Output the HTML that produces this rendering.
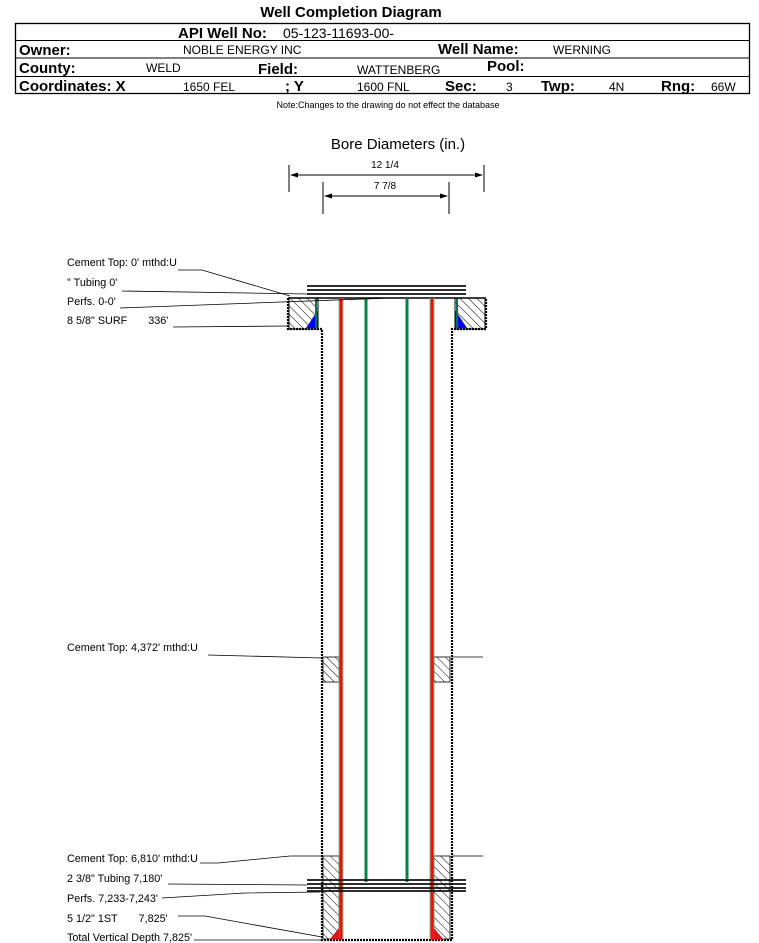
<!DOCTYPE html>
<html><head><meta charset="utf-8"><style>
html,body{margin:0;padding:0;background:#fff;width:759px;height:943px;overflow:hidden}
svg{display:block}
text{font-family:"Liberation Sans",Arial,sans-serif;fill:#000}
</style></head><body>
<svg width="759" height="943" viewBox="0 0 759 943" xmlns="http://www.w3.org/2000/svg">
<defs>
<pattern id="h" patternUnits="userSpaceOnUse" width="6" height="6" patternTransform="rotate(-45)">
<rect width="6" height="6" fill="#fff"/><line x1="0" y1="0" x2="0" y2="6" stroke="#000" stroke-width="1"/>
</pattern>
</defs>
<!-- Header -->
<text x="351" y="17" font-size="15" font-weight="bold" text-anchor="middle">Well Completion Diagram</text>
<rect x="15.5" y="23.5" width="734" height="70" fill="none" stroke="#000" stroke-width="1.3"/>
<line x1="15" y1="40.5" x2="750" y2="40.5" stroke="#000"/>
<line x1="15" y1="58" x2="750" y2="58" stroke="#000"/>
<line x1="15" y1="76.5" x2="750" y2="76.5" stroke="#000"/>
<text x="178" y="38" font-size="15" font-weight="bold">API Well No:</text>
<text x="283" y="38" font-size="14">05-123-11693-00-</text>
<text x="19" y="55" font-size="15" font-weight="bold">Owner:</text>
<text x="183" y="54" font-size="12">NOBLE ENERGY INC</text>
<text x="438" y="54" font-size="15" font-weight="bold">Well Name:</text>
<text x="553" y="54" font-size="12">WERNING</text>
<text x="19" y="73" font-size="15" font-weight="bold">County:</text>
<text x="146" y="72" font-size="12">WELD</text>
<text x="258" y="74" font-size="15" font-weight="bold">Field:</text>
<text x="357" y="74" font-size="12">WATTENBERG</text>
<text x="487" y="71" font-size="15" font-weight="bold">Pool:</text>
<text x="19" y="91" font-size="15" font-weight="bold">Coordinates: X</text>
<text x="183" y="91" font-size="12">1650 FEL</text>
<text x="285" y="91" font-size="15" font-weight="bold">; Y</text>
<text x="357" y="91" font-size="12">1600 FNL</text>
<text x="445" y="91" font-size="15" font-weight="bold">Sec:</text>
<text x="506" y="91" font-size="12">3</text>
<text x="541" y="91" font-size="15" font-weight="bold">Twp:</text>
<text x="609" y="91" font-size="12">4N</text>
<text x="661" y="91" font-size="15" font-weight="bold">Rng:</text>
<text x="711" y="91" font-size="12">66W</text>
<text x="388" y="108" font-size="9" text-anchor="middle">Note:Changes to the drawing do not effect the database</text>

<!-- Bore diameters -->
<text x="398" y="149" font-size="15" text-anchor="middle">Bore Diameters (in.)</text>
<text x="385" y="168" font-size="10" text-anchor="middle">12 1/4</text>
<text x="385" y="189" font-size="10" text-anchor="middle">7 7/8</text>
<g stroke="#000" stroke-width="1">
<line x1="289" y1="165" x2="289" y2="192"/><line x1="484" y1="165" x2="484" y2="192"/>
<line x1="291" y1="175" x2="482" y2="175"/>
<line x1="323" y1="182" x2="323" y2="214"/><line x1="449" y1="182" x2="449" y2="214"/>
<line x1="325" y1="196" x2="447" y2="196"/>
</g>
<polygon points="290,175 298,172.5 298,177.5"/><polygon points="483,175 475,172.5 475,177.5"/>
<polygon points="324,196 332,193.5 332,198.5"/><polygon points="448,196 440,193.5 440,198.5"/>

<!-- surface casing hatches -->
<rect x="289" y="298" width="29" height="31" fill="url(#h)" stroke="#000"/>
<rect x="455" y="298" width="30" height="31" fill="url(#h)" stroke="#000"/>
<polygon points="318,310 318,328 306,328" fill="#00f"/>
<polygon points="455,310 455,328 467,328" fill="#00f"/>
<line x1="316" y1="298" x2="316" y2="328" stroke="#08704a" stroke-width="2"/>
<line x1="457" y1="298" x2="457" y2="328" stroke="#08704a" stroke-width="2"/>
<line x1="288" y1="298" x2="486" y2="298" stroke="#000" stroke-width="1.5"/>
<!-- dashed walls -->
<g stroke="#000" stroke-width="2.2" stroke-dasharray="2,1" fill="none">
<polyline points="288,298 288,329 322,329 322,940 452,940 452,329 486,329 486,298"/>
</g>
<!-- cement hatches -->
<rect x="323" y="657" width="16" height="25" fill="url(#h)" stroke="#000" stroke-width="0.8"/>
<rect x="434" y="657" width="16" height="25" fill="url(#h)" stroke="#000" stroke-width="0.8"/>
<rect x="323" y="856" width="16" height="83" fill="url(#h)" stroke="#000" stroke-width="0.8"/>
<rect x="434" y="856" width="16" height="83" fill="url(#h)" stroke="#000" stroke-width="0.8"/>
<!-- casing lines -->
<g stroke-width="3">
<line x1="341" y1="298" x2="341" y2="940" stroke="#e81010"/>
<line x1="432" y1="298" x2="432" y2="940" stroke="#e81010"/>
<line x1="366" y1="298" x2="366" y2="882" stroke="#08804a"/>
<line x1="407" y1="298" x2="407" y2="882" stroke="#08804a"/>
</g>
<g stroke="#6b6" stroke-width="0.8">
<line x1="339" y1="298" x2="339" y2="938"/><line x1="343" y1="298" x2="343" y2="938"/>
<line x1="430" y1="298" x2="430" y2="938"/><line x1="434" y1="298" x2="434" y2="938"/>
</g>
<polygon points="339,928 339,939 330,939" fill="#e81010"/>
<polygon points="434,928 434,939 443,939" fill="#e81010"/>
<!-- tubing lines -->
<g stroke="#111" stroke-width="1.8">
<line x1="307" y1="286" x2="466" y2="286"/><line x1="307" y1="290" x2="466" y2="290"/><line x1="307" y1="294" x2="466" y2="294"/>
<line x1="307" y1="880" x2="466" y2="880"/><line x1="307" y1="884" x2="466" y2="884"/><line x1="307" y1="888" x2="466" y2="888"/><line x1="307" y1="891" x2="466" y2="891"/>
</g>
<!-- labels -->
<g font-size="10.8">
<text x="67" y="266">Cement Top: 0' mthd:U</text>
<text x="67" y="286">" Tubing 0'</text>
<text x="67" y="305">Perfs. 0-0'</text>
<text x="67" y="324">8 5/8" SURF&#160;&#160;&#160;&#160;&#160;&#160; 336'</text>
<text x="67" y="651">Cement Top: 4,372' mthd:U</text>
<text x="67" y="862">Cement Top: 6,810' mthd:U</text>
<text x="67" y="882">2 3/8" Tubing 7,180'</text>
<text x="67" y="902">Perfs. 7,233-7,243'</text>
<text x="67" y="922">5 1/2" 1ST&#160;&#160;&#160;&#160;&#160;&#160; 7,825'</text>
<text x="67" y="941">Total Vertical Depth 7,825'</text>
</g>
<g stroke="#000" stroke-width="0.8" fill="none">
<polyline points="178,270 202,270 290,296"/>
<polyline points="122,291 307,294"/>
<polyline points="120,308 390,298"/>
<polyline points="173,327 289,326"/>
<polyline points="208,655 322,658"/>
<line x1="452" y1="657" x2="483" y2="657"/>
<polyline points="200,863 218,863 290,856 322,856"/>
<line x1="452" y1="856" x2="483" y2="856"/>
<polyline points="168,884 307,885"/>
<polyline points="162,898 245,893 320,892"/>
<polyline points="178,916 205,916 322,937"/>
<polyline points="194,940 322,940"/>
</g>
</svg>
</body></html>
